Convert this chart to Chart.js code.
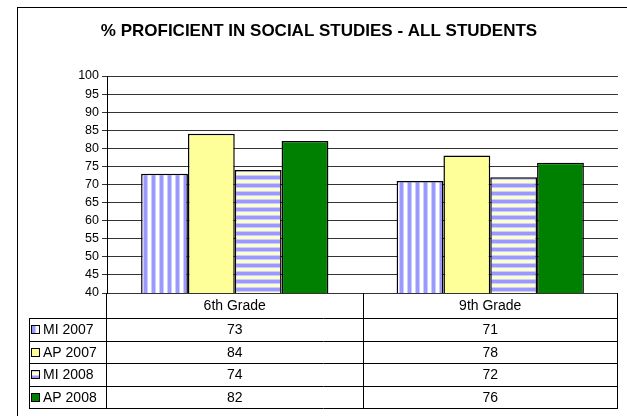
<!DOCTYPE html>
<html>
<head>
<meta charset="utf-8">
<script src="https://cdn.jsdelivr.net/npm/chart.js@4/dist/chart.umd.min.js"></script>
<style>
  body { margin: 0; background: #fff; }
  #wrap { width: 627px; height: 416px; }
</style>
</head>
<body>
<div id="wrap"><canvas id="chart" width="627" height="416"></canvas></div>
<script>
// data
const titleText = "% PROFICIENT IN SOCIAL STUDIES - ALL STUDENTS"
const grades = ["6th Grade", "9th Grade"]
const seriesNames = ["MI 2007", "AP 2007", "MI 2008", "AP 2008"]
const mi2007 = [73, 71]
const ap2007 = [84, 78]
const mi2008 = [74, 72]
const ap2008 = [82, 76]
const yMin = 40
const yMax = 100
const yStep = 5

const FONT = "'Liberation Sans', Arial, sans-serif"

// striped fills like the old Excel patterns
function stripes(vertical, c1, c2) {
    const c = document.createElement("canvas")
    c.width = vertical ? 8 : 1
    c.height = vertical ? 1 : 8
    const g = c.getContext("2d")
    const cols = [c1, c1, c1, "#ccccff", c2, c2, c2, "#ccccff"]
    cols.forEach((col, i) => {
        g.fillStyle = col
        if (vertical) g.fillRect(i, 0, 1, 1)
        else g.fillRect(0, i, 1, 1)
    })
    return g.createPattern(c, "repeat")
}

const fills = [
    stripes(true, "#9999ff", "#ffffff"),
    "#ffff99",
    stripes(false, "#9999ff", "#ffffcc"),
    "#008000",
]
const values = [mi2007, ap2007, mi2008, ap2008]

// frame, title and the data table under the plot
const tablePlugin = {
    id: "tablePlugin",
    beforeDraw(chart) {
        const ctx = chart.ctx
        ctx.save()
        ctx.strokeStyle = "#000"
        ctx.lineWidth = 1
        ctx.strokeRect(17.5, 7.5, 640, 440)
        ctx.restore()
    },
    afterDraw(chart) {
        const ctx = chart.ctx
        const area = chart.chartArea
        const x = chart.scales.x
        ctx.save()
        ctx.fillStyle = "#000"
        ctx.font = "bold 17px " + FONT
        ctx.textAlign = "center"
        ctx.textBaseline = "middle"
        ctx.fillText(titleText, 319, 31)

        const left = area.left
        const right = area.right
        const legendLeft = 29
        const top = area.bottom
        const headerH = 25
        const rowH = 22.5
        const bottom = top + headerH + rowH * seriesNames.length
        const colW = (right - left) / grades.length

        ctx.strokeStyle = "#000"
        ctx.lineWidth = 1
        const hLine = (x0, x1, y) => {
            const yy = Math.round(y) + 0.5
            ctx.beginPath(); ctx.moveTo(x0, yy); ctx.lineTo(x1, yy); ctx.stroke()
        }
        const vLine = (xx, y0, y1) => {
            xx = Math.round(xx) + 0.5
            ctx.beginPath(); ctx.moveTo(xx, y0); ctx.lineTo(xx, y1); ctx.stroke()
        }
        hLine(legendLeft, right, top + headerH)
        for (let i = 1; i <= seriesNames.length; i++) {
            hLine(legendLeft, right, top + headerH + rowH * i)
        }
        vLine(left - 1, top, bottom)
        vLine(right - 1, top, bottom + 1)
        vLine(legendLeft, top + headerH, bottom + 1)
        for (let i = 1; i < grades.length; i++) vLine(left + colW * i, top, bottom)

        ctx.font = "14px " + FONT
        grades.forEach((g, i) => {
            ctx.fillText(g, x.getPixelForValue(i), top + headerH / 2 + 1)
        })
        seriesNames.forEach((name, r) => {
            const cy = top + headerH + rowH * r + rowH / 2 + 1
            const sy = Math.round(cy - 4)
            ctx.fillStyle = fills[r]
            ctx.fillRect(32, sy, 7, 7)
            ctx.strokeRect(31.5, sy - 0.5, 8, 8)
            ctx.fillStyle = "#000"
            ctx.textAlign = "left"
            ctx.fillText(name, 43, cy)
            ctx.textAlign = "center"
            values[r].forEach((v, i) => {
                ctx.fillText(String(v), x.getPixelForValue(i), cy)
            })
        })
        ctx.restore()
    },
}

new Chart(document.getElementById("chart"), {
    type: "bar",
    data: {
        labels: grades,
        datasets: seriesNames.map((name, i) => ({
            label: name,
            data: values[i],
            backgroundColor: fills[i],
            borderColor: "#000",
            borderWidth: 1.5,
            borderSkipped: false,
            barPercentage: 1,
            categoryPercentage: 0.733,
        })),
    },
    options: {
        responsive: false,
        animation: false,
        layout: { padding: { left: 0, right: 9, top: 76, bottom: 123 } },
        plugins: {
            legend: { display: false },
            title: { display: false },
            tooltip: { enabled: false },
        },
        scales: {
            x: { display: false },
            y: {
                min: yMin,
                max: yMax,
                afterFit(scale) { scale.width = 107 },
                ticks: {
                    stepSize: yStep,
                    autoSkip: false,
                    color: "#000",
                    padding: 3,
                    font: { family: FONT, size: 12.5 },
                },
                grid: { color: "#333", tickLength: 5, drawTicks: true },
                border: { color: "#000", width: 1 },
            },
        },
    },
    plugins: [tablePlugin],
})
</script>
</body>
</html>
